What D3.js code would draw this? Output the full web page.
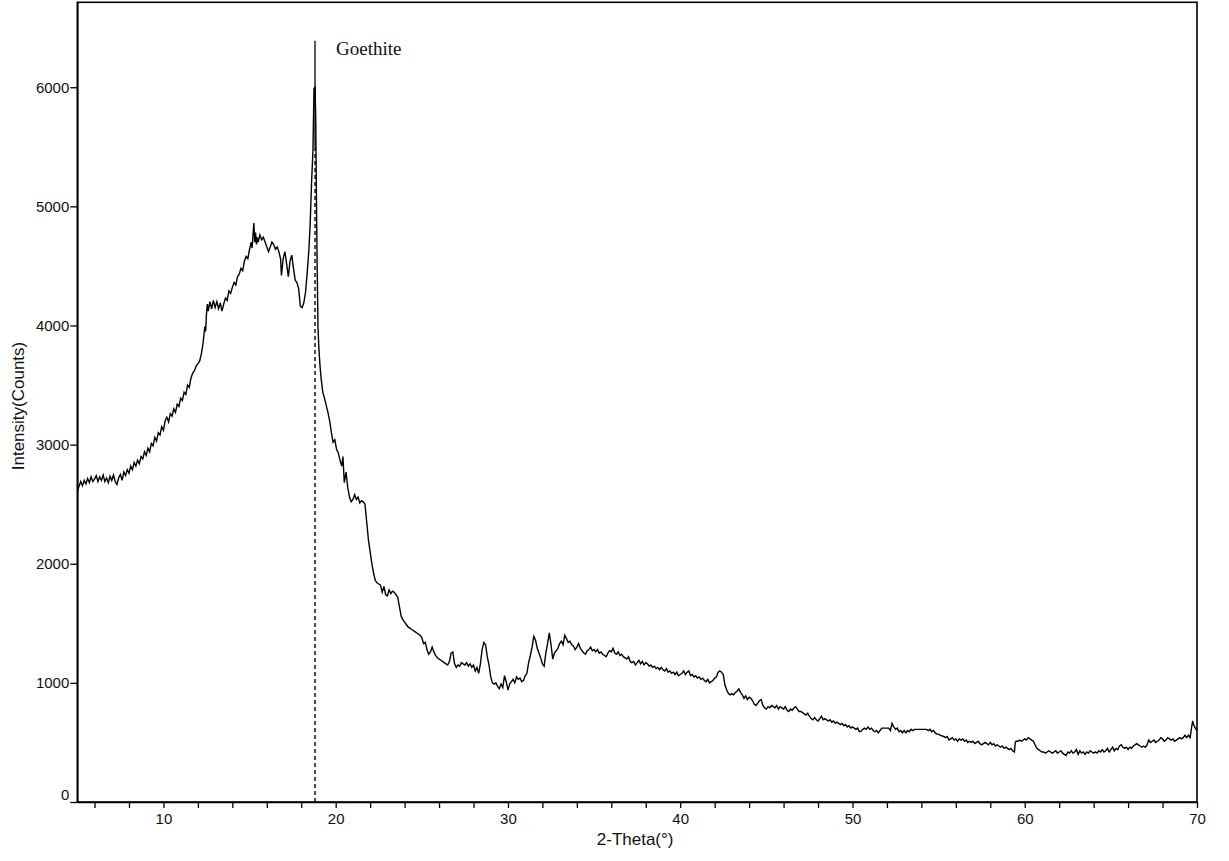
<!DOCTYPE html>
<html>
<head>
<meta charset="utf-8">
<script src="https://cdn.jsdelivr.net/npm/d3@7"></script>
<style>
  body { margin: 0; background: #fff; }
  text { font-family: "Liberation Sans", Arial, sans-serif; }
</style>
</head>
<body>
<svg id="chart" width="1229" height="861"></svg>
<script>
// scan 5 - 12.5 deg (rising amorphous background)
const scanLow = [
  [5.0,2607],[5.1,2650],[5.2,2690],[5.3,2655],[5.4,2700],[5.5,2670],[5.6,2715],[5.7,2680],[5.8,2730],[5.9,2690],
  [6.0,2710],[6.1,2740],[6.2,2690],[6.3,2730],[6.4,2700],[6.5,2745],[6.6,2690],[6.7,2720],[6.8,2680],[6.9,2735],
  [7.0,2700],[7.1,2745],[7.2,2690],[7.3,2665],[7.4,2720],[7.5,2750],[7.6,2700],[7.7,2770],[7.8,2740],[7.9,2790],
  [8.0,2760],[8.1,2820],[8.2,2790],[8.3,2850],[8.4,2820],[8.5,2870],[8.6,2840],[8.7,2900],[8.8,2880],[8.9,2940],
  [9.0,2910],[9.1,2970],[9.2,2940],[9.3,3010],[9.4,2990],[9.5,3060],[9.6,3030],[9.7,3100],[9.8,3080],[9.9,3150],
  [10.0,3120],[10.1,3200],[10.2,3230],[10.3,3190],[10.4,3260],[10.5,3240],[10.6,3300],[10.7,3270],[10.8,3340],[10.9,3320],
  [11.0,3390],[11.1,3370],[11.2,3440],[11.3,3420],[11.4,3500],[11.5,3480],[11.6,3560],[11.7,3600],[11.8,3620],[11.9,3660],
  [12.0,3680],[12.1,3700],[12.2,3760],[12.3,3850],[12.35,3920],[12.4,3990],[12.45,3950]
];

// scan 12.5 - 19.3 deg (hump + goethite peak)
const scanPeak = [
  [12.5,4100],[12.55,4180],[12.6,4120],[12.7,4200],[12.8,4140],[12.9,4210],[13.0,4150],[13.1,4200],[13.2,4140],[13.3,4190],
  [13.4,4120],[13.5,4180],[13.6,4230],[13.7,4210],[13.8,4290],[13.9,4270],[14.0,4320],[14.1,4360],[14.2,4340],[14.3,4410],
  [14.4,4430],[14.5,4480],[14.6,4460],[14.7,4540],[14.8,4580],[14.9,4560],[15.0,4640],[15.1,4700],[15.15,4650],[15.2,4760],
  [15.25,4860],[15.3,4700],[15.35,4780],[15.4,4680],[15.45,4740],[15.5,4700],[15.6,4760],[15.7,4720],[15.8,4740],[15.9,4700],
  [16.0,4660],[16.1,4620],[16.2,4660],[16.3,4700],[16.4,4680],[16.5,4640],[16.6,4660],[16.7,4620],[16.8,4560],[16.85,4420],
  [16.95,4560],[17.05,4620],[17.15,4520],[17.25,4410],[17.35,4540],[17.45,4590],[17.55,4480],[17.65,4380],[17.75,4360],[17.85,4310],
  [17.95,4160],[18.05,4150],[18.15,4190],[18.25,4280],[18.35,4450],[18.45,4650],[18.52,4860],[18.6,5200],[18.68,5470],[18.74,5990],
  [18.8,6000],[18.84,5750],[18.88,5100],[18.92,4550],[18.97,4000],[19.02,3820],[19.08,3680],[19.15,3560],[19.25,3440]
];

// scan 19.3 - 45 deg
const scanMid = [
  [19.35,3390],[19.45,3330],[19.55,3270],[19.65,3200],[19.75,3100],[19.85,3020],[19.95,3040],[20.05,2960],[20.15,2930],[20.25,2870],
  [20.35,2820],[20.42,2900],[20.5,2680],[20.6,2770],[20.7,2640],[20.8,2560],[20.9,2520],[21.0,2540],[21.1,2580],[21.2,2540],
  [21.3,2560],[21.4,2510],[21.5,2530],[21.6,2520],[21.7,2500],[21.8,2350],[21.9,2200],[22.0,2100],[22.1,2000],[22.2,1920],
  [22.3,1860],[22.4,1840],[22.5,1830],[22.6,1820],[22.7,1760],[22.8,1810],[22.9,1740],[23.0,1730],[23.1,1780],[23.2,1750],
  [23.3,1770],[23.4,1760],[23.5,1740],[23.6,1720],[23.7,1640],[23.8,1560],[23.9,1530],[24.0,1510],[24.1,1490],[24.2,1470],
  [24.3,1460],[24.4,1450],[24.5,1440],[24.6,1430],[24.7,1420],[24.8,1410],[24.9,1400],[25.0,1380],[25.1,1330],[25.2,1340],
  [25.3,1280],[25.4,1240],[25.5,1260],[25.6,1300],[25.7,1260],[25.8,1230],[25.9,1210],[26.0,1200],[26.1,1190],[26.2,1180],
  [26.3,1170],[26.4,1160],[26.5,1150],[26.6,1180],[26.7,1250],[26.8,1260],[26.9,1160],[27.0,1130],[27.1,1150],[27.2,1140],
  [27.3,1170],[27.4,1160],[27.5,1150],[27.6,1170],[27.7,1140],[27.8,1160],[27.9,1130],[28.0,1150],[28.1,1100],[28.2,1130],
  [28.3,1080],[28.4,1160],[28.5,1280],[28.6,1340],[28.7,1320],[28.8,1220],[28.9,1150],[29.0,1050],[29.1,1000],[29.2,990],
  [29.3,1000],[29.4,970],[29.5,950],[29.6,990],[29.7,960],[29.8,1060],[29.9,1010],[30.0,940],[30.1,990],[30.2,1010],
  [30.3,1030],[30.4,1000],[30.5,1050],[30.6,1030],[30.7,1040],[30.8,1010],[30.9,1020],[31.0,1060],[31.1,1080],[31.2,1170],
  [31.3,1230],[31.4,1300],[31.5,1390],[31.6,1360],[31.7,1290],[31.8,1250],[31.9,1210],[32.0,1160],[32.1,1140],[32.2,1250],
  [32.3,1330],[32.4,1420],[32.5,1320],[32.6,1200],[32.7,1250],[32.8,1270],[32.9,1290],[33.0,1330],[33.1,1350],[33.2,1320],
  [33.3,1400],[33.4,1370],[33.5,1340],[33.6,1350],[33.7,1320],[33.8,1310],[33.9,1280],[34.0,1300],[34.1,1330],[34.2,1290],
  [34.3,1270],[34.4,1250],[34.5,1240],[34.6,1270],[34.7,1280],[34.8,1300],[34.9,1270],[35.0,1280],[35.1,1260],[35.2,1280],
  [35.3,1250],[35.4,1260],[35.5,1240],[35.6,1230],[35.7,1220],[35.8,1250],[35.9,1270],[36.0,1260],[36.1,1290],[36.2,1250],
  [36.3,1240],[36.4,1260],[36.5,1230],[36.6,1240],[36.7,1220],[36.8,1210],[36.9,1200],[37.0,1220],[37.1,1180],[37.2,1170],
  [37.3,1180],[37.4,1150],[37.5,1170],[37.6,1190],[37.7,1160],[37.8,1180],[37.9,1150],[38.0,1170],[38.1,1160],[38.2,1140],
  [38.3,1150],[38.4,1130],[38.5,1140],[38.6,1120],[38.7,1130],[38.8,1110],[38.9,1130],[39.0,1110],[39.1,1100],[39.2,1120],
  [39.3,1090],[39.4,1100],[39.5,1080],[39.6,1090],[39.7,1070],[39.8,1090],[39.9,1060],[40.0,1070],[40.1,1080],[40.2,1100],
  [40.3,1070],[40.4,1090],[40.5,1100],[40.6,1060],[40.7,1070],[40.8,1050],[40.9,1060],[41.0,1040],[41.1,1050],[41.2,1030],
  [41.3,1040],[41.4,1020],[41.5,1010],[41.6,1030],[41.7,1000],[41.8,1010],[41.9,1020],[42.0,1040],[42.1,1050],[42.2,1090],
  [42.3,1100],[42.4,1090],[42.5,1070],[42.6,980],[42.7,940],[42.8,910],[42.9,900],[43.0,910],[43.1,900],[43.2,920],
  [43.3,930],[43.4,950],[43.5,920],[43.6,900],[43.7,870],[43.8,890],[43.9,860],[44.0,880],[44.1,870],[44.2,850],
  [44.3,820],[44.4,810],[44.5,830],[44.6,850],[44.7,860],[44.8,810],[44.9,790]
];

// scan 45 - 70 deg
const scanHigh = [
  [45.0,780],[45.1,800],[45.2,790],[45.3,810],[45.4,800],[45.5,790],[45.6,810],[45.7,780],[45.8,800],[45.9,790],
  [46.0,780],[46.1,800],[46.2,770],[46.3,760],[46.4,780],[46.5,770],[46.6,790],[46.7,800],[46.8,780],[46.9,760],
  [47.0,760],[47.1,750],[47.2,740],[47.3,730],[47.4,745],[47.5,720],[47.6,700],[47.7,690],[47.8,710],[47.9,690],
  [48.0,680],[48.1,700],[48.2,720],[48.3,690],[48.4,700],[48.5,690],[48.6,680],[48.7,690],[48.8,670],[48.9,680],
  [49.0,660],[49.1,670],[49.2,660],[49.3,650],[49.4,660],[49.5,640],[49.6,650],[49.7,630],[49.8,640],[49.9,620],
  [50.0,630],[50.1,620],[50.2,610],[50.3,620],[50.4,590],[50.5,595],[50.6,610],[50.7,620],[50.8,610],[50.9,630],
  [51.0,610],[51.1,620],[51.2,600],[51.3,590],[51.4,600],[51.5,580],[51.6,600],[51.7,620],[51.8,620],[51.9,620],
  [52.0,620],[52.1,620],[52.2,600],[52.3,660],[52.4,630],[52.5,610],[52.6,620],[52.7,590],[52.8,600],[52.9,580],
  [53.0,600],[53.1,580],[53.2,600],[53.3,590],[53.4,610],[53.5,600],[53.6,610],[53.7,610],[53.8,610],[53.9,610],
  [54.0,610],[54.1,610],[54.2,610],[54.3,610],[54.4,600],[54.5,610],[54.6,590],[54.7,600],[54.8,580],[54.9,570],
  [55.0,570],[55.1,560],[55.2,555],[55.3,550],[55.4,540],[55.5,550],[55.6,520],[55.7,530],[55.8,540],[55.9,520],
  [56.0,530],[56.1,510],[56.2,530],[56.3,520],[56.4,530],[56.5,510],[56.6,520],[56.7,500],[56.8,510],[56.9,500],
  [57.0,510],[57.1,490],[57.2,500],[57.3,510],[57.4,490],[57.5,480],[57.6,490],[57.7,500],[57.8,490],[57.9,480],
  [58.0,500],[58.1,480],[58.2,490],[58.3,470],[58.4,480],[58.5,470],[58.6,460],[58.7,470],[58.8,450],[58.9,460],
  [59.0,450],[59.1,440],[59.2,450],[59.3,430],[59.4,420],[59.45,500],[59.5,510],[59.6,510],[59.7,520],[59.8,510],
  [59.9,520],[60.0,530],[60.1,520],[60.2,540],[60.3,530],[60.4,520],[60.5,510],[60.6,480],[60.7,450],[60.8,440],
  [60.9,430],[61.0,420],[61.1,420],[61.2,410],[61.3,420],[61.4,430],[61.5,420],[61.6,410],[61.7,420],[61.8,430],
  [61.9,410],[62.0,420],[62.1,430],[62.2,410],[62.3,400],[62.4,390],[62.5,420],[62.6,410],[62.7,430],[62.8,410],
  [62.9,420],[63.0,440],[63.1,400],[63.2,430],[63.3,410],[63.4,420],[63.5,400],[63.6,420],[63.7,410],[63.8,430],
  [63.9,420],[64.0,410],[64.1,420],[64.2,410],[64.3,430],[64.4,420],[64.5,440],[64.6,420],[64.7,430],[64.8,450],
  [64.9,420],[65.0,440],[65.1,460],[65.2,430],[65.3,450],[65.4,440],[65.5,470],[65.6,480],[65.7,460],[65.8,450],
  [65.9,460],[66.0,440],[66.1,460],[66.2,450],[66.3,470],[66.4,480],[66.5,490],[66.6,480],[66.7,470],[66.8,460],
  [66.9,470],[67.0,460],[67.1,480],[67.2,520],[67.3,500],[67.4,510],[67.5,520],[67.6,500],[67.7,510],[67.8,520],
  [67.9,540],[68.0,530],[68.1,510],[68.2,520],[68.3,540],[68.4,530],[68.5,520],[68.6,530],[68.7,510],[68.8,520],
  [68.9,530],[69.0,540],[69.1,530],[69.2,540],[69.3,560],[69.4,540],[69.5,560],[69.6,540],[69.7,640],[69.75,680],
  [69.8,650],[69.9,620],[70.0,600]
];

// phase marker
const phaseName = "Goethite";
const phasePos = 18.8;
const phaseTop = 6390;

const yTicks = [0, 1000, 2000, 3000, 4000, 5000, 6000];
const xTicks = d3.range(6, 71, 2);

const scan = scanLow.concat(scanPeak, scanMid, scanHigh);

const svg = d3.select("#chart"),
      margin = {top: 2.3, right: 32, bottom: 59, left: 77.3},
      width = +svg.attr("width") - margin.left - margin.right,
      height = +svg.attr("height") - margin.top - margin.bottom;

const g = svg.append("g")
  .attr("transform", `translate(${margin.left},${margin.top})`);

const x = d3.scaleLinear().domain([5, 70]).range([0, width]);
const y = d3.scaleLinear().domain([0, 6713]).range([height, 0]);

// frame
g.append("rect")
  .attr("width", width)
  .attr("height", height)
  .attr("fill", "none")
  .attr("stroke", "#000")
  .attr("stroke-width", 1.6);

// x axis
const xAxis = g.append("g")
  .attr("transform", `translate(0,${height})`)
  .call(d3.axisBottom(x).tickValues(xTicks).tickSize(6).tickSizeOuter(0)
    .tickFormat(d => d % 10 === 0 ? d : ""));
xAxis.select(".domain").attr("stroke-width", 1.6);
xAxis.selectAll(".tick line").attr("stroke-width", 1.3);
xAxis.selectAll("text")
  .attr("y", 11)
  .style("font-size", "15px")
  .style("font-family", "'Liberation Sans', Arial, sans-serif")
  .attr("fill", "#111");

// y axis
const yAxis = g.append("g")
  .call(d3.axisLeft(y).tickValues(yTicks).tickSize(7).tickSizeOuter(0)
    .tickFormat(d3.format("d")));
yAxis.select(".domain").attr("stroke-width", 1.6);
yAxis.selectAll(".tick line").attr("stroke-width", 1.3);
yAxis.selectAll("text")
  .attr("x", -8)
  .style("font-size", "15px")
  .style("font-family", "'Liberation Sans', Arial, sans-serif")
  .attr("fill", "#111");
yAxis.selectAll(".tick").filter(d => d === 0).select("text").attr("dy", "-0.15em");

// axis titles
svg.append("text")
  .attr("x", margin.left + x(37.5) - 2)
  .attr("y", 845)
  .attr("text-anchor", "middle")
  .style("font-size", "17px")
  .attr("fill", "#111")
  .text("2-Theta(°)");

svg.append("text")
  .attr("transform", "translate(24,406) rotate(-90)")
  .attr("text-anchor", "middle")
  .style("font-size", "17px")
  .attr("fill", "#111")
  .text("Intensity(Counts)");

// phase marker line
g.append("line")
  .attr("x1", x(phasePos)).attr("x2", x(phasePos))
  .attr("y1", y(0)).attr("y2", y(5500))
  .attr("stroke", "#000")
  .attr("stroke-width", 1.4)
  .attr("stroke-dasharray", "4,3");
g.append("line")
  .attr("x1", x(phasePos)).attr("x2", x(phasePos))
  .attr("y1", y(5500)).attr("y2", y(phaseTop))
  .attr("stroke", "#000")
  .attr("stroke-width", 1.3);

// scan line
g.append("path")
  .datum(scan)
  .attr("fill", "none")
  .attr("stroke", "#000")
  .attr("stroke-width", 1.4)
  .attr("stroke-linejoin", "miter")
  .attr("d", d3.line().x(d => x(d[0])).y(d => y(d[1])));

// phase label
g.append("text")
  .attr("x", x(phasePos) + 21)
  .attr("y", y(phaseTop) + 14)
  .style("font-family", "'Liberation Serif', 'Times New Roman', serif")
  .style("font-size", "19px")
  .attr("fill", "#111")
  .text(phaseName);
</script>
</body>
</html>
